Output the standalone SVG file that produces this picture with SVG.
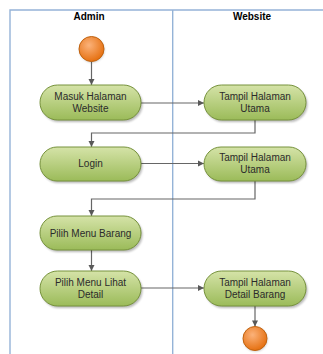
<svg xmlns="http://www.w3.org/2000/svg" width="323" height="354" viewBox="0 0 323 354">
<defs>
<linearGradient id="gNode" x1="0" y1="0" x2="0" y2="1">
<stop offset="0" stop-color="#d5e3a8"/>
<stop offset="1" stop-color="#9bbb59"/>
</linearGradient>
<radialGradient id="gCirc" cx="0.4" cy="0.35" r="0.7">
<stop offset="0" stop-color="#fbb27a"/>
<stop offset="1" stop-color="#e46c0a"/>
</radialGradient>
<marker id="arr" markerUnits="userSpaceOnUse" markerWidth="8" markerHeight="8" refX="7" refY="4" orient="auto">
<path d="M1,1 L7,4 L1,7 Z" fill="#595959"/>
</marker>
<filter id="sh" x="-10%" y="-10%" width="130%" height="140%">
<feGaussianBlur stdDeviation="1"/>
</filter>
</defs>
<style>
.lane{fill:none;stroke:#95b3d7;stroke-width:1.4}
.hdr{font-family:"Liberation Sans",Arial,sans-serif;font-size:10px;font-weight:bold;fill:#000;text-anchor:middle}
.node{fill:url(#gNode);stroke:#76923c;stroke-width:1}
.shadow{fill:#000;opacity:0.28;filter:url(#sh)}
.lbl{font-family:"Liberation Sans",Arial,sans-serif;font-size:10px;fill:#2b2b2b;text-anchor:middle}
.circ{fill:url(#gCirc);stroke:#c0620e;stroke-width:1}
.edge{fill:none;stroke:#666;stroke-width:1.2;marker-end:url(#arr)}
</style>
<rect width="323" height="354" fill="#fff"/>
<g id="lanes">
<path class="lane" d="M10,354 V10 H323"/>
<path class="lane" d="M172.7,10 V354"/>
<text class="hdr" x="89" y="19.5">Admin</text>
<text class="hdr" x="252" y="19.5">Website</text>
</g>
<g id="connectors">
<path class="edge" d="M91.5,61.5 V85"/>
<path class="edge" d="M141,103 H204"/>
<path class="edge" d="M255,120 V133 H91.5 V147"/>
<path class="edge" d="M141,163.5 H204"/>
<path class="edge" d="M255,181 V199 H91.5 V216"/>
<path class="edge" d="M91.5,250 V271"/>
<path class="edge" d="M141,288 H204"/>
<path class="edge" d="M255,306 V326.5"/>
</g>
<g id="start">
<circle cx="92" cy="50" r="12.5" fill="#000" opacity="0.2" filter="url(#sh)"/>
<circle class="circ" cx="91.5" cy="49" r="12.5"/>
</g>
<g id="n1">
<rect class="shadow" x="41.5" y="87" width="101" height="35" rx="17.5"/>
<rect class="node" x="40" y="85" width="101" height="35" rx="17.5"/>
<text class="lbl" x="90.5" y="99.5">Masuk Halaman</text>
<text class="lbl" x="90.5" y="112">Website</text>
</g>
<g id="n2">
<rect class="shadow" x="205.5" y="87" width="102" height="35" rx="17.5"/>
<rect class="node" x="204" y="85" width="102" height="35" rx="17.5"/>
<text class="lbl" x="255" y="99.5">Tampil Halaman</text>
<text class="lbl" x="255" y="112">Utama</text>
</g>
<g id="n3">
<rect class="shadow" x="41.5" y="149" width="101" height="34" rx="17"/>
<rect class="node" x="40" y="147" width="101" height="34" rx="17"/>
<text class="lbl" x="90.5" y="166.5">Login</text>
</g>
<g id="n4">
<rect class="shadow" x="205.5" y="149" width="102" height="34" rx="17"/>
<rect class="node" x="204" y="147" width="102" height="34" rx="17"/>
<text class="lbl" x="255" y="160.5">Tampil Halaman</text>
<text class="lbl" x="255" y="173">Utama</text>
</g>
<g id="n5">
<rect class="shadow" x="41.5" y="218" width="101" height="34" rx="17"/>
<rect class="node" x="40" y="216" width="101" height="34" rx="17"/>
<text class="lbl" x="90.5" y="236.5">Pilih Menu Barang</text>
</g>
<g id="n6">
<rect class="shadow" x="41.5" y="273" width="101" height="35" rx="17.5"/>
<rect class="node" x="40" y="271" width="101" height="35" rx="17.5"/>
<text class="lbl" x="90.5" y="285.5">Pilih Menu Lihat</text>
<text class="lbl" x="90.5" y="298">Detail</text>
</g>
<g id="n7">
<rect class="shadow" x="205.5" y="273" width="102" height="35" rx="17.5"/>
<rect class="node" x="204" y="271" width="102" height="35" rx="17.5"/>
<text class="lbl" x="255" y="285.5">Tampil Halaman</text>
<text class="lbl" x="255" y="298">Detail Barang</text>
</g>
<g id="end">
<circle cx="255.5" cy="339.5" r="12" fill="#000" opacity="0.2" filter="url(#sh)"/>
<circle class="circ" cx="255" cy="338.5" r="12"/>
</g>
</svg>
